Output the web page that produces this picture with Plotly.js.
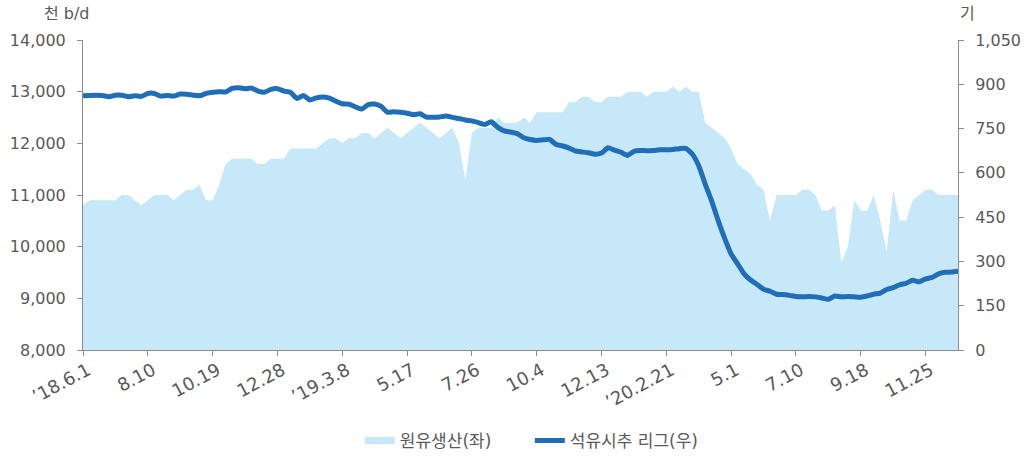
<!DOCTYPE html>
<html>
<head>
<meta charset="utf-8">
<script src="https://cdn.plot.ly/plotly-3.0.1.min.js"></script>
<style>
  html, body { margin: 0; padding: 0; background: #ffffff; }
  #chart { width: 1034px; height: 457px; }
</style>
</head>
<body>
<div id="chart"></div>
<script>
// Weekly crude oil production (thousand b/d), left axis
const production = [
  10800, 10900, 10900, 10900, 10900, 10900, 11000, 11000, 10900, 10800,
  10900, 11000, 11000, 11000, 10900, 11000, 11100, 11100, 11200, 10900,
  10900, 11200, 11600, 11700, 11700, 11700, 11700, 11600, 11600, 11700,
  11700, 11700, 11900, 11900, 11900, 11900, 11900, 12000, 12100, 12100,
  12000, 12100, 12100, 12200, 12200, 12100, 12200, 12300, 12200, 12100,
  12200, 12300, 12400, 12300, 12200, 12100, 12200, 12300, 12000, 11300,
  12200, 12300, 12300, 12300, 12500, 12400, 12400, 12400, 12500, 12400,
  12600, 12600, 12600, 12600, 12600, 12800, 12800, 12900, 12900, 12800,
  12800, 12900, 12900, 12900, 13000, 13000, 13000, 12900, 13000, 13000,
  13000, 13100, 13000, 13100, 13000, 13000, 12400, 12300, 12200, 12100,
  11900, 11600, 11500, 11400, 11200, 11100, 10500, 11000, 11000, 11000,
  11000, 11100, 11100, 11000, 10700, 10700, 10800, 9700, 10000, 10900,
  10700, 10700, 11000, 10500, 9900, 11100, 10500, 10500, 10900, 11000,
  11100, 11100, 11000, 11000, 11000, 11000
];

// Weekly oil rig count (rigs), right axis
const rigs = [
  861, 862, 863, 862, 858, 863, 863, 858, 861, 859,
  869, 869, 860, 862, 860, 867, 866, 863, 861, 869,
  873, 875, 874, 886, 888, 885, 887, 877, 873, 883,
  885, 877, 873, 852, 862, 847, 854, 857, 853, 843,
  834, 833, 824, 816, 831, 833, 825, 805, 807, 805,
  802, 797, 800, 789, 788, 789, 793, 788, 784, 779,
  776, 770, 764, 773, 754, 742, 738, 733, 719, 713,
  710, 712, 713, 696, 691, 684, 674, 671, 668, 663,
  667, 685, 677, 670, 659, 673, 676, 675, 676, 678,
  678, 679, 682, 683, 664, 624, 562, 504, 438, 378,
  325, 292, 258, 237, 222, 206, 199, 189, 188, 185,
  181, 180, 181, 180, 176, 172, 183, 180, 181, 180,
  179, 183, 189, 193, 205, 211, 221, 226, 236, 231,
  241, 246, 258, 263, 264, 267
];

// X-axis tick labels (every 10th week) and their week positions
const tickWeeks = [0, 10, 20, 30, 40, 50, 60, 70, 80, 90, 100, 110, 120, 130];
const tickLabels = ["’18.6.1", "8.10", "10.19", "12.28", "’19.3.8", "5.17", "7.26",
                    "10.4", "12.13", "’20.2.21", "5.1", "7.10", "9.18", "11.25"];

const seriesNames = ["원유생산(좌)", "석유시추 리그(우)"];

const weekIndex = production.map((_, i) => i);

const FONT = '"DejaVu Sans", "Noto Sans CJK KR", sans-serif';
const GRAY = '#595959';
const AXIS = '#8c8c8c';
const AREA = '#C6E8F8';
const LINE = '#1F6EB7';

const traces = [
  {
    x: weekIndex,
    y: production,
    name: seriesNames[0],
    type: 'scatter',
    mode: 'lines',
    fill: 'tozeroy',
    fillcolor: AREA,
    line: { color: AREA, width: 0 },
    yaxis: 'y',
    showlegend: false,
    hoverinfo: 'skip'
  },
  {
    x: weekIndex,
    y: rigs,
    name: seriesNames[1],
    type: 'scatter',
    mode: 'lines',
    line: { color: LINE, width: 5, shape: 'spline', smoothing: 0.5 },
    yaxis: 'y2',
    showlegend: false,
    hoverinfo: 'skip'
  },
  // legend-only entries (no data drawn)
  {
    x: [null], y: [null], name: seriesNames[0], type: 'scatter', mode: 'lines',
    line: { color: AREA, width: 7 }, yaxis: 'y', hoverinfo: 'skip'
  },
  {
    x: [null], y: [null], name: seriesNames[1], type: 'scatter', mode: 'lines',
    line: { color: LINE, width: 5 }, yaxis: 'y2', hoverinfo: 'skip'
  }
];

const layout = {
  width: 1034,
  height: 457,
  margin: { l: 83, r: 76, t: 40, b: 107 },
  paper_bgcolor: '#ffffff',
  plot_bgcolor: '#ffffff',
  font: { family: FONT, size: 16, color: GRAY },
  showlegend: true,
  legend: {
    orientation: 'h',
    xref: 'container', yref: 'container',
    x: 0.348, xanchor: 'left',
    y: 0.035, yanchor: 'middle',
    font: { family: FONT, size: 17, color: GRAY },
    itemwidth: 30,
    entrywidth: 125,
    entrywidthmode: 'pixels',
    traceorder: 'normal'
  },
  xaxis: {
    range: [0, 135],
    tickmode: 'array',
    tickvals: tickWeeks,
    ticktext: tickLabels,
    tickangle: -28,
    ticklabelshift: 5,
    ticklabelstandoff: -3,
    ticks: 'outside',
    ticklen: 5,
    tickcolor: AXIS,
    showline: true,
    linecolor: AXIS,
    linewidth: 1,
    showgrid: false,
    zeroline: false,
    tickfont: { family: FONT, size: 18, color: GRAY },
    automargin: false
  },
  yaxis: {
    range: [8000, 14000],
    tickvals: [8000, 9000, 10000, 11000, 12000, 13000, 14000],
    tickformat: ',d',
    ticks: 'outside',
    ticklen: 5,
    tickcolor: AXIS,
    showline: true,
    linecolor: AXIS,
    linewidth: 1,
    showgrid: false,
    zeroline: false,
    ticklabelstandoff: 8,
    tickfont: { family: FONT, size: 16, color: GRAY },
    automargin: false
  },
  yaxis2: {
    overlaying: 'y',
    side: 'right',
    range: [0, 1050],
    tickvals: [0, 150, 300, 450, 600, 750, 900, 1050],
    tickformat: ',d',
    ticks: 'outside',
    ticklen: 5,
    tickcolor: AXIS,
    showline: true,
    linecolor: AXIS,
    linewidth: 1,
    showgrid: false,
    zeroline: false,
    ticklabelstandoff: 8,
    tickfont: { family: FONT, size: 16, color: GRAY },
    automargin: false
  },
  annotations: [
    {
      text: '천 b/d', xref: 'paper', yref: 'paper',
      x: -0.018, y: 1.087, xanchor: 'center', yanchor: 'middle',
      showarrow: false, font: { family: FONT, size: 16, color: GRAY }
    },
    {
      text: '기', xref: 'paper', yref: 'paper',
      x: 1.0114, y: 1.087, xanchor: 'center', yanchor: 'middle',
      showarrow: false, font: { family: FONT, size: 16, color: GRAY }
    }
  ]
};

Plotly.newPlot('chart', traces, layout, { displayModeBar: false, staticPlot: true });
</script>
</body>
</html>
